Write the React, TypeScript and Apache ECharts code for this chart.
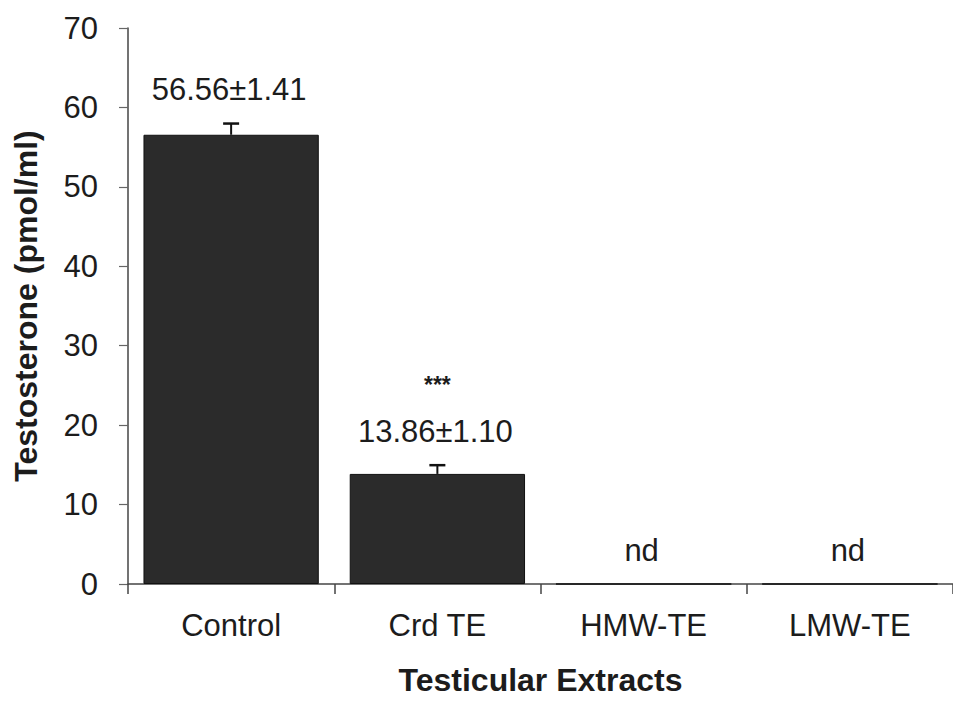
import React, { useEffect, useRef } from "react";
import * as echarts from "echarts";

// Testosterone levels by testicular extract (mean ± SEM)
const categories = ["Control", "Crd TE", "HMW-TE", "LMW-TE"];
const means = [56.56, 13.86, 0, 0];
const sems = [1.41, 1.1, 0, 0];
const valueLabels = ["56.56±1.41", "13.86±1.10", "nd", "nd"];
const significance = ["", "***", "", ""];
const yTicks = { min: 0, max: 70, interval: 10 };

const FONT = "'Liberation Sans', Arial, Helvetica, sans-serif";
const INK = "#1c1c1c";

export default function App() {
  const ref = useRef<HTMLDivElement>(null);

  useEffect(() => {
    if (!ref.current) return;
    const chart = echarts.init(ref.current, null, { renderer: "svg" });

    const errorData = categories.map((_, i) => [i, means[i], sems[i]]);

    chart.setOption({
      animation: false,
      backgroundColor: "#ffffff",
      grid: { left: 128, top: 28, width: 832, height: 562 },
      xAxis: {
        type: "category",
        data: categories,
        boundaryGap: true,
        axisLine: { lineStyle: { color: "#444", width: 1.5 } },
        axisTick: { show: true, length: 10, lineStyle: { color: "#444", width: 1.5 } },
        axisLabel: { color: INK, fontSize: 31, fontFamily: FONT, margin: 26 },
        name: "Testicular Extracts",
        nameLocation: "middle",
        nameGap: 80,
        nameTextStyle: { color: INK, fontSize: 32, fontWeight: "bold", fontFamily: FONT },
      },
      yAxis: {
        type: "value",
        min: yTicks.min,
        max: yTicks.max,
        interval: yTicks.interval,
        axisLine: { show: true, lineStyle: { color: "#444", width: 1.5 } },
        axisTick: { show: true, length: 9, lineStyle: { color: "#666", width: 1.2 } },
        splitLine: { show: false },
        axisLabel: { color: INK, fontSize: 31, fontFamily: FONT, margin: 30 },
        name: "Testosterone (pmol/ml)",
        nameLocation: "middle",
        nameGap: 86,
        nameTextStyle: { color: INK, fontSize: 32, fontWeight: "bold", fontFamily: FONT },
      },
      series: [
        {
          type: "bar",
          data: means,
          barWidth: "85%",
          itemStyle: { color: "#2b2b2b", borderColor: "#111", borderWidth: 1 },
          z: 2,
        },
        {
          type: "custom",
          data: errorData,
          z: 3,
          renderItem: (params: any, api: any) => {
            const i = api.value(0);
            const m = api.value(1);
            const e = api.value(2);
            const base = api.coord([i, m]);
            const top = api.coord([i, m + e]);
            const children: any[] = [];
            if (e > 0) {
              children.push({
                type: "line",
                shape: { x1: base[0], y1: base[1], x2: top[0], y2: top[1] },
                style: { stroke: "#111", lineWidth: 2 },
              });
              children.push({
                type: "line",
                shape: { x1: top[0] - 8, y1: top[1], x2: top[0] + 8, y2: top[1] },
                style: { stroke: "#111", lineWidth: 2.5 },
              });
            }
            const labelY = top[1] - 34;
            children.push({
              type: "text",
              style: {
                x: top[0] - 2,
                y: labelY,
                text: valueLabels[i],
                fill: INK,
                font: `31px ${FONT}`,
                align: "center",
                verticalAlign: "middle",
              },
            });
            if (significance[i]) {
              children.push({
                type: "text",
                style: {
                  x: top[0],
                  y: labelY - 46,
                  text: significance[i],
                  fill: INK,
                  font: `bold 23px ${FONT}`,
                  align: "center",
                  verticalAlign: "middle",
                },
              });
            }
            return { type: "group", children };
          },
        },
      ],
    });

    return () => chart.dispose();
  }, []);

  return (
    <div
      ref={ref}
      style={{ position: "absolute", left: 0, top: 0, width: 953, height: 701 }}
    />
  );
}
